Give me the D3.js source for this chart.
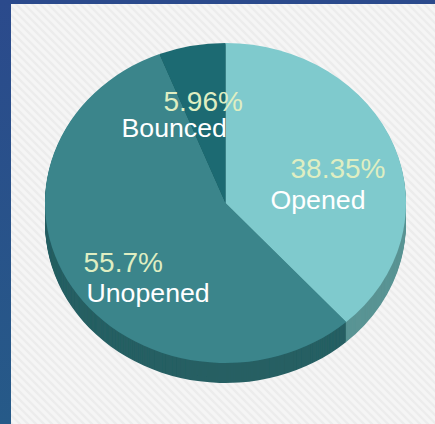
<!DOCTYPE html>
<html>
<head>
<meta charset="utf-8">
<script src="https://cdn.jsdelivr.net/npm/d3@7"></script>
<style>
  html, body { margin: 0; padding: 0; background: #fff; }
  svg { display: block; }
  text { font-family: "Liberation Sans", Arial, sans-serif; }
</style>
</head>
<body>
<div id="chart"></div>
<script>
const categories = ['Opened', 'Unopened', 'Bounced']
const values = [38.35, 55.7, 5.96]
const valueLabels = ['38.35%', '55.7%', '5.96%']

const width = 435, height = 424
const topColors = ['#7fcacd', '#3a858b', '#1f6b72']
const sideColors = ['#5a9494', '#265f63', '#174f54']

// centre of the top face, the pie is squashed to look tilted
const cx = 225.5, cy = 203, rx = 180.5, ry = 160, depth = 20

// where the two text lines of each label sit (left edge, baselines)
const labelX = [[290.5, 270.5], [83.5, 86.5], [163.5, 121.5]]
const labelY = [[178, 209], [272, 302], [111, 137]]

const svg = d3.select('#chart').append('svg')
  .attr('width', width)
  .attr('height', height)

const defs = svg.append('defs')

// the diagonal stripes of the page background
const hatch = defs.append('pattern')
  .attr('id', 'hatch')
  .attr('patternUnits', 'userSpaceOnUse')
  .attr('width', 8)
  .attr('height', 8)
hatch.append('rect').attr('width', 8).attr('height', 8).attr('fill', '#f5f5f5')
hatch.append('path')
  .attr('d', 'M-2,2L6,10M2,-2L10,6')
  .attr('stroke', '#ececec')
  .attr('stroke-width', 2.2)

const band = defs.append('linearGradient')
  .attr('id', 'band')
  .attr('x1', 0).attr('y1', 0).attr('x2', 0).attr('y2', 1)
band.append('stop').attr('offset', '0%').attr('stop-color', '#2b4a8c')
band.append('stop').attr('offset', '100%').attr('stop-color', '#265a88')

// slight softening, the reference is a scaled up bitmap
const soft = defs.append('filter').attr('id', 'soft')
soft.append('feGaussianBlur').attr('stdDeviation', 0.45)

svg.append('rect').attr('width', width).attr('height', height).attr('fill', 'url(#band)')
svg.append('rect')
  .attr('x', 11).attr('y', 4)
  .attr('width', width - 11).attr('height', height - 4)
  .attr('fill', 'url(#hatch)')

const pie = d3.pie().sort(null).value(d => d)
const slices = pie(values)
const arc = d3.arc().innerRadius(0).outerRadius(rx)

const chart = svg.append('g').attr('filter', 'url(#soft)')

// side wall: same slices stacked downwards in the darker colours
d3.range(depth, 0, -1).forEach(function(d) {
  chart.append('g')
    .attr('transform', `translate(${cx},${cy + d}) scale(1,${ry / rx})`)
    .selectAll('path')
    .data(slices)
    .join('path')
    .attr('d', arc)
    .attr('fill', (s, i) => sideColors[i])
})

chart.append('g')
  .attr('transform', `translate(${cx},${cy}) scale(1,${ry / rx})`)
  .selectAll('path')
  .data(slices)
  .join('path')
  .attr('d', arc)
  .attr('fill', (s, i) => topColors[i])

const labels = svg.append('g').selectAll('g')
  .data(categories)
  .join('g')

labels.append('text')
  .attr('x', (d, i) => labelX[i][0])
  .attr('y', (d, i) => labelY[i][0])
  .attr('font-size', 28)
  .attr('fill', '#dfeec2')
  .text((d, i) => valueLabels[i])

labels.append('text')
  .attr('x', (d, i) => labelX[i][1])
  .attr('y', (d, i) => labelY[i][1])
  .attr('font-size', 26.7)
  .attr('fill', '#ffffff')
  .text(d => d)
</script>
</body>
</html>
